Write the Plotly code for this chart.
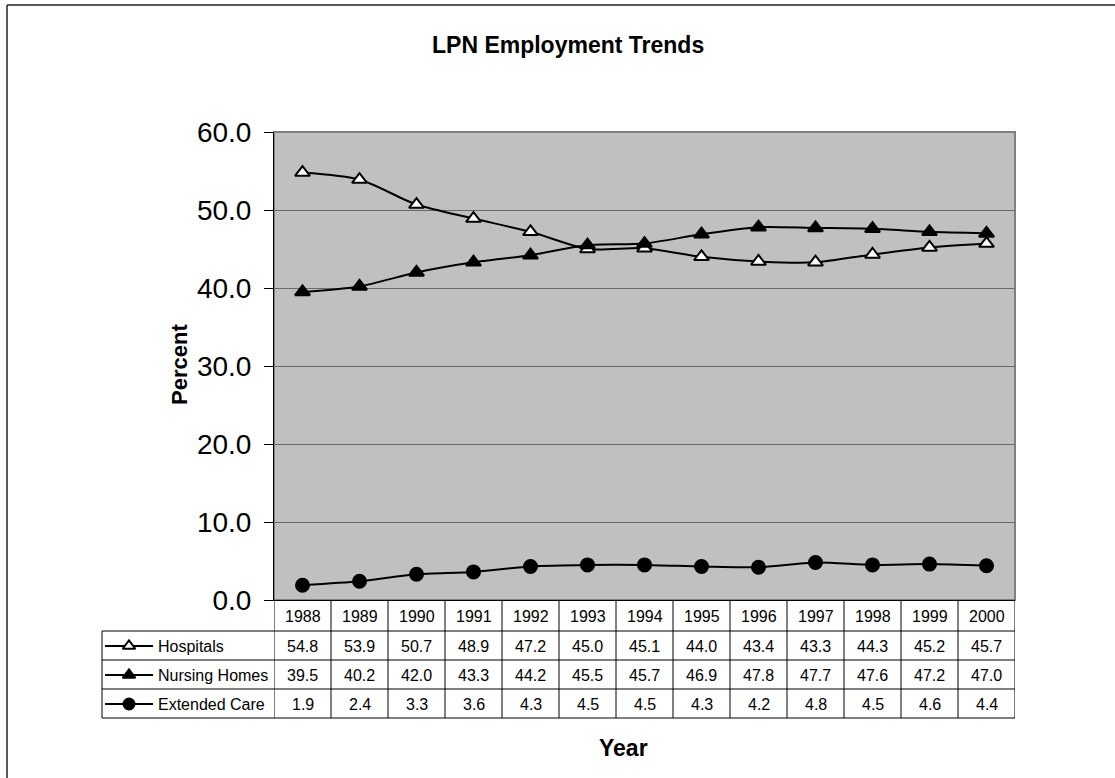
import plotly.graph_objects as go

# ---------------- data ----------------
years = ["1988", "1989", "1990", "1991", "1992", "1993", "1994",
         "1995", "1996", "1997", "1998", "1999", "2000"]
hospitals = [54.8, 53.9, 50.7, 48.9, 47.2, 45.0, 45.1, 44.0, 43.4, 43.3, 44.3, 45.2, 45.7]
nursing_homes = [39.5, 40.2, 42.0, 43.3, 44.2, 45.5, 45.7, 46.9, 47.8, 47.7, 47.6, 47.2, 47.0]
extended_care = [1.9, 2.4, 3.3, 3.6, 4.3, 4.5, 4.5, 4.3, 4.2, 4.8, 4.5, 4.6, 4.4]
series_names = ["Hospitals", "Nursing Homes", "Extended Care"]
y_tick_values = [0, 10, 20, 30, 40, 50, 60]
chart_title = "LPN Employment Trends"
y_title = "Percent"
x_title = "Year"

# ---------------- layout helpers ----------------
W, H = 1115, 778
PL, PR, PT, PB = 274, 1015, 132, 600          # plot area in pixels
TABLE_LEFT = 102
ROW_LINES = [631, 660, 689, 718]
HEADER_CY = 616
ROW_CY = [646, 675, 704]
FONT = "Liberation Sans, Arial, sans-serif"


def px(x):
    return x / W


def py(y):
    return 1 - y / H


series_values = {"Hospitals": hospitals, "Nursing Homes": nursing_homes,
                 "Extended Care": extended_care}
marker_styles = {
    "Hospitals": dict(symbol="triangle-up", color="white"),
    "Nursing Homes": dict(symbol="triangle-up", color="black"),
    "Extended Care": dict(symbol="circle", color="black"),
}

fig = go.Figure()

# main series, in series order (later series drawn on top)
for name in series_names:
    st = marker_styles[name]
    fig.add_trace(go.Scatter(
        x=years, y=series_values[name], mode="lines+markers", name=name,
        line=dict(color="black", width=2, shape="spline", smoothing=0.7),
        marker=dict(symbol=st["symbol"], size=13, color=st["color"],
                    line=dict(color="black", width=2)),
        cliponaxis=False, showlegend=False, xaxis="x", yaxis="y"))

# legend keys inside the data table (pixel overlay axes)
for name, cy in zip(series_names, ROW_CY):
    st = marker_styles[name]
    fig.add_trace(go.Scatter(
        x=[105, 153], y=[cy, cy], mode="lines",
        line=dict(color="black", width=2), showlegend=False,
        hoverinfo="skip", xaxis="x2", yaxis="y2"))
    fig.add_trace(go.Scatter(
        x=[129], y=[cy], mode="markers",
        marker=dict(symbol=st["symbol"], size=11, color=st["color"],
                    line=dict(color="black", width=2)),
        showlegend=False, hoverinfo="skip", xaxis="x2", yaxis="y2"))

shapes = []
# plot area background
shapes.append(dict(type="rect", xref="x domain", yref="y domain", x0=0, x1=1, y0=0, y1=1,
                   fillcolor="#C0C0C0", line=dict(color="#808080", width=2), layer="below"))
# table vertical lines (column separators)
for k in range(len(years) + 1):
    shapes.append(dict(type="line", xref="x", yref="paper", x0=k - 0.5, x1=k - 0.5,
                       y0=py(PB), y1=py(ROW_LINES[-1]),
                       line=dict(color="black", width=1)))
# table left border
shapes.append(dict(type="line", xref="paper", yref="paper", x0=px(TABLE_LEFT), x1=px(TABLE_LEFT),
                   y0=py(ROW_LINES[0]), y1=py(ROW_LINES[-1]), line=dict(color="black", width=1)))
# table horizontal lines
for ry in ROW_LINES:
    shapes.append(dict(type="line", xref="paper", yref="paper", x0=px(TABLE_LEFT), x1=px(PR),
                       y0=py(ry), y1=py(ry), line=dict(color="black", width=1)))
# chart outer border (left and top visible)
shapes.append(dict(type="line", xref="paper", yref="paper", x0=px(7), x1=px(7),
                   y0=py(5), y1=0, line=dict(color="#222222", width=1.5)))
shapes.append(dict(type="line", xref="paper", yref="paper", x0=px(7), x1=1,
                   y0=py(5), y1=py(5), line=dict(color="#222222", width=1.5)))


def label(text, x, y, size, xref="paper", xanchor="center", angle=0):
    return dict(text=text, xref=xref, yref="paper", x=x, y=y, showarrow=False,
                xanchor=xanchor, yanchor="middle", textangle=angle,
                font=dict(family=FONT, size=size, color="black"))


annotations = []
# title and axis titles
annotations.append(label("<b>" + chart_title + "</b>", px(568), py(45), 23))
annotations.append(label("<b>" + y_title + "</b>", px(180), py(365), 22, angle=-90))
annotations.append(label("<b>" + x_title + "</b>", px(623), py(748), 23))
# table header (years)
for i, yr in enumerate(years):
    annotations.append(label(yr, i, py(HEADER_CY), 16, xref="x"))
# table rows
for name, cy in zip(series_names, ROW_CY):
    annotations.append(label(name, px(156), py(cy), 16, xanchor="left"))
    for i, v in enumerate(series_values[name]):
        annotations.append(label(f"{v:.1f}", i, py(cy), 16, xref="x"))

fig.update_layout(
    width=W, height=H, margin=dict(l=0, r=0, t=0, b=0),
    paper_bgcolor="white", plot_bgcolor="rgba(0,0,0,0)",
    showlegend=False, template="none",
    xaxis=dict(domain=[px(PL), px(PR)], type="category", categoryorder="array",
               categoryarray=years, range=[-0.5, len(years) - 0.5],
               showticklabels=False, ticks="", showgrid=False, zeroline=False,
               showline=True, linecolor="black", linewidth=1, automargin=False,
               anchor="y", fixedrange=True),
    yaxis=dict(domain=[py(PB), py(PT)], range=[0, 60], tickvals=y_tick_values,
               tickformat=".1f", ticks="outside", ticklen=9, tickwidth=1, tickcolor="black",
               tickfont=dict(family=FONT, size=28, color="black"), ticklabelstandoff=7,
               showgrid=True, gridcolor="#6a6a6a", gridwidth=1, zeroline=False,
               showline=True, linecolor="black", linewidth=1, automargin=False,
               anchor="x", fixedrange=True),
    xaxis2=dict(domain=[0, 1], range=[0, W], visible=False, anchor="y2", fixedrange=True),
    yaxis2=dict(domain=[0, 1], range=[H, 0], visible=False, anchor="x2", fixedrange=True),
    shapes=shapes, annotations=annotations,
)

fig.write_html("out.html")
